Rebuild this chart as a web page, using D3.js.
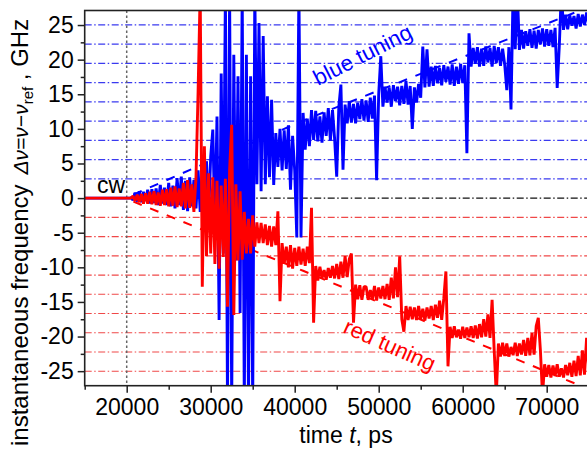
<!DOCTYPE html>
<meta charset="utf-8">
<html>
<head>
<style>
body { margin: 0; background: #fff; }
svg { display: block; font-family: Arial, "Liberation Sans", sans-serif; }
.axis text { font-size: 23px; fill: #000; }
.axis path, .axis line { stroke: #222; stroke-width: 1.5; }
</style>
</head>
<body>
<script src="https://d3js.org/d3.v7.min.js"></script>
<script>
// tick values
var xTicks = [20000, 30000, 40000, 50000, 60000, 70000];
var xMinor = [15000, 25000, 35000, 45000, 55000, 65000, 75000];
var yTicks = [-25, -20, -15, -10, -5, 0, 5, 10, 15, 20, 25];
var yMinor = [-22.5, -17.5, -12.5, -7.5, -2.5, 2.5, 7.5, 12.5, 17.5, 22.5];

// mode grid (GHz)
var blueGrid = [2.78, 5.56, 8.34, 11.12, 13.9, 16.68, 19.46, 22.24, 25.02];
var redGrid = [-2.78, -5.56, -8.34, -11.12, -13.9, -16.68, -19.46, -22.24, -25.02];

// cw part before switching
var cwT = [15000, 20500];
var cwV = [0, 0];

// sampled traces, first sample at t0, one every dt ps
var t0 = 20500, dt = 250;
var blueV = [
  0.2, -0.3, 0.8, -0.5, 1.0, -0.6, 0.9, -0.4,
  1.2, -0.8, 1.3, -0.7, 1.4, -1.0, 1.9, -0.8,
  1.5, -1.0, 2.2, -1.2, 1.8, -1.5, 2.9, -1.0,
  3.1, -1.7, 2.5, -1.9, 3.0, -1.2, 2.6, -1.5,
  4.0, -2.0, 4.5, -3.0, 5.3, -2.5, 6.0, 9.9,
  -4.0, 11.8, -17.6, 18, -8, 30, -30, 30,
  -30, 20.7, -9, 17.6, -16.6, 30, -30, 20.7,
  -30, 17.6, -30, 30, 2.0, 25.3, 1.0, 23.4,
  2.0, 14.7, 3.0, 14.2, 1.9, 9.4, 4.5, 10.0,
  4.0, 9.8, 4.2, 10.5, 1.2, 9.0, 4.0, -5.7,
  30, -5.7, 12.3, 7.0, 11.5, 7.5, 12.7, 8.4,
  12.6, 8.2, 11.8, 8.0, 12.4, 9.0, 13.0, 8.3,
  12.7, 8.6, 3.1, 13.1, 16.4, 4.1, 13.5, 10.8,
  14.0, 10.9, 13.6, 10.8, 13.8, 11.4, 14.3, 11.2,
  14.1, 11.0, 14.5, 11.5, 14.8, 2.6, 15.0, 20.5,
  13.2, 16.1, 13.8, 16.0, 13.2, 16.3, 14.0, 16.1,
  13.4, 16.2, 13.6, 16.9, 13.5, 16.2, 10.0, 16.0,
  13.8, 16.5, 14.5, 21.9, 16.0, 21.5, 16.1, 19.0,
  16.2, 19.1, 16.6, 18.8, 16.3, 19.2, 16.8, 19.0,
  16.4, 19.3, 16.2, 19.0, 16.5, 19.4, 16.6, 19.2,
  6.5, 23.8, 19.0, 21.7, 19.4, 21.8, 19.0, 21.6,
  19.1, 21.9, 19.6, 21.7, 19.0, 22.0, 19.5, 21.8,
  19.1, 21.6, 19.3, 15.6, 21.8, 12.8, 30, 21.5,
  30, 21.4, 24.3, 21.6, 24.1, 22.0, 24.4, 21.7,
  24.2, 21.6, 24.3, 22.2, 24.5, 21.9, 24.4, 22.0,
  24.3, 21.8, 24.6, 15.9, 22.0, 30, 24.3, 26.5,
  24.4, 26.4, 24.9, 26.3, 24.5, 26.6, 24.8, 26.5,
  25.0, 26.8, 25.2
];
var redV = [
  0, 0.3, -0.4, 0.5, -0.6, 0.6, -0.8, 0.7,
  -0.8, 0.9, -0.9, 1.0, -1.0, 0.8, -1.1, 1.2,
  -1.0, 1.3, -1.2, 1.5, -1.1, 1.7, -1.3, 1.4,
  -1.2, 2.2, -1.5, 2.6, -1.4, 2.0, -2.0, 3.0,
  15.4, 30, -12.8, 7.5, -8.4, 3.6, -8.0, 3.0,
  -9.5, 2.5, -10.2, 1.8, -8.5, 2.8, -15.7, 4.0,
  10.6, -16.9, 2.0, -9.0, 1.0, -8.9, -2.0, -8.0,
  -3.0, -8.0, -2.5, -7.0, -3.5, -6.5, -3.6, -6.5,
  -3.8, -6.8, -4.0, -7.0, -4.1, -6.8, -1.9, -14.9,
  -6.5, -9.5, -7.0, -10.0, -6.8, -10.2, -7.2, -9.8,
  -7.0, -9.6, -7.3, -9.8, -7.0, -9.4, -1.4, -18.0,
  -9.8, -11.9, -9.9, -11.6, -10.4, -11.8, -10.1, -11.5,
  -9.8, -11.6, -9.5, -11.7, -9.2, -11.5, -8.4, -11.4,
  -8.8, -8.0, -18.0, -12.5, -14.6, -12.6, -14.7, -12.8,
  -12.8, -14.7, -13.3, -14.6, -12.7, -14.8, -12.9, -14.5,
  -12.7, -14.6, -12.4, -14.7, -11.5, -14.5, -10.0, -14.3,
  -8.4, -17.5, -19.3, -15.6, -17.6, -15.7, -17.5, -15.8,
  -17.6, -15.6, -17.5, -16.0, -17.7, -15.8, -17.4, -15.6,
  -17.6, -15.4, -17.3, -14.8, -17.6, -14.5, -10.6, -24.3,
  -18.6, -20.2, -18.5, -20.1, -19.0, -20.3, -18.6, -20.2,
  -18.7, -20.1, -18.5, -20.2, -18.4, -20.3, -18.2, -20.1,
  -17.5, -20.0, -16.8, -20.2, -14.7, -22.0, -28.5, -21.0,
  -22.9, -20.9, -22.8, -21.0, -22.9, -21.5, -22.7, -20.9,
  -22.8, -21.0, -22.6, -20.5, -22.8, -20.2, -22.7, -19.5,
  -22.6, -18.5, -17.3, -22.0, -28.5, -24.0, -25.8, -24.1,
  -25.9, -24.2, -25.7, -24.0, -25.8, -24.6, -25.9, -24.1,
  -25.6, -23.8, -25.8, -23.5, -25.7, -22.8, -25.6, -22.0,
  -25.5, -20.2, -24.5
];

// linear tuning guides
var trendT = [20800, 41000, 75000];
var blueTrendV = [0.5, 11.2, 27.6];
var redTrendV = [-0.5, -10.5, -27.6];

var W = 587, H = 453;
var pL = 84.7, pR = 588.7, pT = 10.5, pB = 385.7;

var x = d3.scaleLinear().domain([15000, 75000]).range([pL, pR]);
var y = d3.scaleLinear().domain([-27.1, 27.1]).range([pB, pT]);

var svg = d3.select("body").append("svg")
  .attr("width", W)
  .attr("height", H);

svg.append("clipPath").attr("id", "plot")
  .append("rect")
  .attr("x", pL).attr("y", pT)
  .attr("width", pR - pL).attr("height", pB - pT);

var g = svg.append("g").attr("clip-path", "url(#plot)");

function hline(v, col) {
  g.append("line")
    .attr("x1", pL).attr("x2", pR)
    .attr("y1", y(v)).attr("y2", y(v))
    .attr("stroke", col)
    .attr("stroke-width", 1.1)
    .attr("stroke-dasharray", "7,2.5,1.5,2.5");
}
blueGrid.forEach(function(v) { hline(v, "#3a3af0"); });
redGrid.forEach(function(v) { hline(v, "#f04848"); });
hline(0, "#111");

// switch-on moment
g.append("line")
  .attr("x1", x(20000)).attr("x2", x(20000))
  .attr("y1", pT).attr("y2", pB)
  .attr("stroke", "#666")
  .attr("stroke-width", 1.5)
  .attr("stroke-dasharray", "2.5,2.5");

var line = d3.line()
  .x(function(d) { return x(d[0]); })
  .y(function(d) { return y(d[1]); });

function series(vals) {
  return vals.map(function(v, i) { return [t0 + i * dt, v]; });
}
function pairs(ts, vs) {
  return ts.map(function(t, i) { return [t, vs[i]]; });
}

g.append("path").datum(pairs(trendT, blueTrendV))
  .attr("d", line).attr("fill", "none")
  .attr("stroke", "#0000ff").attr("stroke-width", 2)
  .attr("stroke-dasharray", "9,9");
g.append("path").datum(pairs(trendT, redTrendV))
  .attr("d", line).attr("fill", "none")
  .attr("stroke", "#ff0000").attr("stroke-width", 2)
  .attr("stroke-dasharray", "9,9");

g.append("path").datum(pairs(cwT, cwV).concat(series(blueV)))
  .attr("d", line).attr("fill", "none")
  .attr("stroke", "#0000ff").attr("stroke-width", 2.9)
  .attr("stroke-linejoin", "bevel");
g.append("path").datum(pairs(cwT, cwV).concat(series(redV)))
  .attr("d", line).attr("fill", "none")
  .attr("stroke", "#ff0000").attr("stroke-width", 2.9)
  .attr("stroke-linejoin", "bevel");

// annotations
svg.append("text")
  .attr("x", 97).attr("y", 193)
  .attr("font-size", 23)
  .text("cw");
svg.append("text")
  .attr("transform", "translate(318,86) rotate(-27)")
  .attr("font-size", 22).attr("fill", "#0000ff")
  .text("blue tuning");
svg.append("text")
  .attr("transform", "translate(342,332) rotate(24)")
  .attr("font-size", 22).attr("fill", "#ff0000")
  .text("red tuning");

// axes
svg.append("g").attr("class", "axis")
  .attr("transform", "translate(0," + pB + ")")
  .call(d3.axisBottom(x).tickValues(xTicks).tickSize(7).tickPadding(6)
    .tickFormat(function(d) { return d; }))
  .call(function(s) { s.select(".domain").remove(); });
svg.append("g").attr("class", "axis")
  .attr("transform", "translate(0," + pB + ")")
  .call(d3.axisBottom(x).tickValues(xMinor).tickSize(4).tickFormat(""))
  .call(function(s) { s.select(".domain").remove(); });
svg.append("g").attr("class", "axis")
  .attr("transform", "translate(" + pL + ",0)")
  .call(d3.axisLeft(y).tickValues(yTicks).tickSize(7).tickPadding(4)
    .tickFormat(function(d) { return d < 0 ? "-" + (-d) : d; }))
  .call(function(s) { s.select(".domain").remove(); });
svg.append("g").attr("class", "axis")
  .attr("transform", "translate(" + pL + ",0)")
  .call(d3.axisLeft(y).tickValues(yMinor).tickSize(4).tickFormat(""))
  .call(function(s) { s.select(".domain").remove(); });

// frame
svg.append("rect")
  .attr("x", pL).attr("y", pT)
  .attr("width", pR - pL).attr("height", pB - pT)
  .attr("fill", "none").attr("stroke", "#222").attr("stroke-width", 1.6);

// axis titles
var xl = svg.append("text")
  .attr("x", 346).attr("y", 443)
  .attr("text-anchor", "middle")
  .attr("font-size", 23);
xl.append("tspan").text("time ");
xl.append("tspan").attr("font-style", "italic").text("t");
xl.append("tspan").text(", ps");

var yl = svg.append("text")
  .attr("transform", "translate(28,446) rotate(-90)")
  .attr("font-size", 24);
yl.append("tspan").text("instantaneous frequency");
yl.append("tspan").attr("dx", 10).attr("font-size", 21)
  .attr("font-style", "italic").text("\u0394\u03bd=\u03bd\u2212\u03bd");
yl.append("tspan").attr("dy", 5).attr("font-size", 15).text("ref");
yl.append("tspan").attr("dy", -5).text(" , GHz");
</script>
</body>
</html>
